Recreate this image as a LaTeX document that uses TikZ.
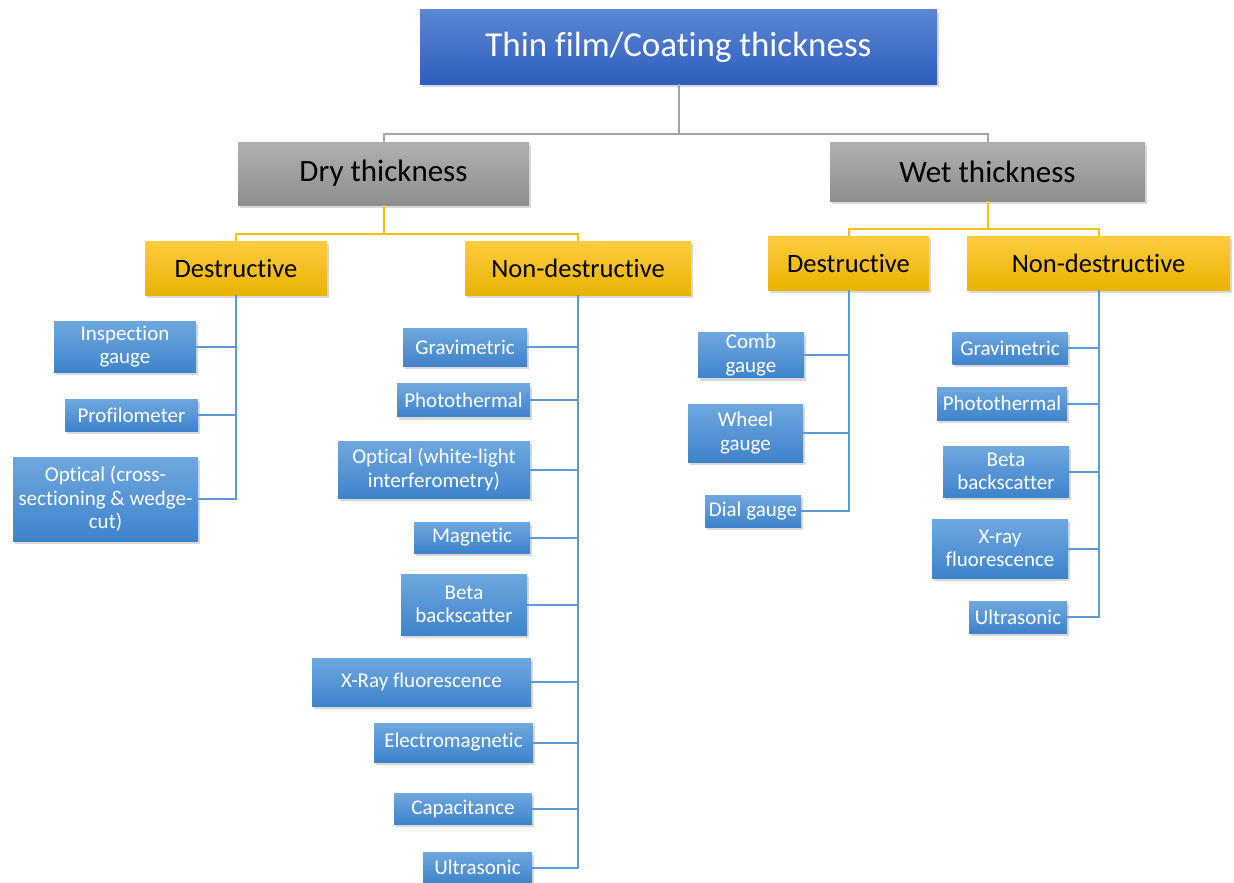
\documentclass[tikz,border=0pt]{standalone}
\usepackage{fontspec}
\setmainfont{Carlito}[RawFeature={-liga;-clig;-dlig;-calt}]
\usetikzlibrary{shadows}
\definecolor{tbtop}{HTML}{5B87D3}
\definecolor{tbbot}{HTML}{2E5EBE}
\definecolor{grtop}{HTML}{B0B0B0}
\definecolor{grbot}{HTML}{8E8E8E}
\definecolor{yltop}{HTML}{FFCC40}
\definecolor{ylbot}{HTML}{E9B300}
\definecolor{lftop}{HTML}{6EA8DF}
\definecolor{lfbot}{HTML}{3E83CB}
\definecolor{lnblue}{HTML}{5B9BD5}
\definecolor{lnyel}{HTML}{FFC000}
\definecolor{lngray}{HTML}{A5A5A5}
\tikzset{
  boxbase/.style={rectangle, inner sep=2pt, align=center,
    drop shadow={opacity=0.3, shadow xshift=2pt, shadow yshift=-3pt}},
  titlebox/.style={boxbase, top color=tbtop, bottom color=tbbot, text=white,
    font=\fontsize{35}{42}\selectfont},
  graybox/.style={boxbase, top color=grtop, bottom color=grbot, text=black,
    font=\fontsize{31}{37}\selectfont},
  yelbox/.style={boxbase, top color=yltop, bottom color=ylbot, text=black,
    font=\fontsize{26.5}{32}\selectfont},
  leafbox/.style={boxbase, top color=lftop, bottom color=lfbot, text=white,
    font=\fontsize{21}{23.5}\selectfont},
  grayln/.style={draw=lngray, line width=2pt},
  yelln/.style={draw=lnyel, line width=2pt},
  blueln/.style={draw=lnblue, line width=2pt},
}
\begin{document}
\begin{tikzpicture}[x=1pt,y=-1pt]
\useasboundingbox (0,0) rectangle (1234,883);
% junctions
\coordinate (j0) at (678.5,134);
\coordinate (j1) at (383.5,234);
\coordinate (j2) at (987.5,229);
% top levels
\node[titlebox, minimum width=517pt, minimum height=74pt] (title) at (678.5,47) {Thin film/Coating thickness};
\node[graybox, minimum width=291pt, minimum height=63pt] (dry) at (383.5,173.5) {Dry thickness};
\node[graybox, minimum width=315pt, minimum height=59pt] (wet) at (987.5,171.5) {Wet thickness};
\node[yelbox, minimum width=182pt, minimum height=54pt] (ddes) at (236,268) {Destructive};
\node[yelbox, minimum width=226pt, minimum height=54pt] (dnd) at (578,268) {Non-destructive};
\node[yelbox, minimum width=161pt, minimum height=54pt] (wdes) at (848.5,263) {Destructive};
\node[yelbox, minimum width=263pt, minimum height=54pt] (wnd) at (1098.5,263) {Non-destructive};
% dry destructive leaves
\node[leafbox, minimum width=142pt, minimum height=51pt] (a1) at (125,346.5) {Inspection\\gauge};
\node[leafbox, minimum width=133pt, minimum height=32pt] (a2) at (131.5,415) {Profilometer};
\node[leafbox, minimum width=185pt, minimum height=84pt] (a3) at (105.5,499) {Optical (cross-\\sectioning \& wedge-\\cut)};
% dry non-destructive leaves
\node[leafbox, minimum width=124pt, minimum height=38pt] (b1) at (465,347) {Gravimetric};
\node[leafbox, minimum width=133pt, minimum height=33pt] (b2) at (463.5,400) {Photothermal};
\node[leafbox, minimum width=192pt, minimum height=57pt] (b3) at (434,469.5) {Optical (white-light\\interferometry)};
\node[leafbox, minimum width=116pt, minimum height=31pt] (b4) at (472,537.5) {Magnetic};
\node[leafbox, minimum width=126pt, minimum height=61pt] (b5) at (464,604.5) {Beta\\backscatter};
\node[leafbox, minimum width=219pt, minimum height=48pt] (b6) at (421.5,682) {X-Ray fluorescence};
\node[leafbox, minimum width=159pt, minimum height=39pt] (b7) at (453.5,742.5) {Electromagnetic};
\node[leafbox, minimum width=138pt, minimum height=31pt] (b8) at (463,808.5) {Capacitance};
\node[leafbox, minimum width=109pt, minimum height=31pt] (b9) at (477.5,867.5) {Ultrasonic};
% wet destructive leaves
\node[leafbox, minimum width=106pt, minimum height=44pt] (c1) at (751,355) {Comb\\gauge};
\node[leafbox, minimum width=115pt, minimum height=58pt] (c2) at (745.5,433) {Wheel\\gauge};
\node[leafbox, minimum width=96pt, minimum height=32pt] (c3) at (753,511) {Dial gauge};
% wet non-destructive leaves
\node[leafbox, minimum width=115pt, minimum height=32pt] (d1) at (1010,348) {Gravimetric};
\node[leafbox, minimum width=130pt, minimum height=33pt] (d2) at (1002,403.5) {Photothermal};
\node[leafbox, minimum width=126pt, minimum height=51pt] (d3) at (1006,471.5) {Beta\\backscatter};
\node[leafbox, minimum width=136pt, minimum height=59pt] (d4) at (1000,548.5) {X-ray\\fluorescence};
\node[leafbox, minimum width=98pt, minimum height=32pt] (d5) at (1018,617) {Ultrasonic};
% connectors
\draw[grayln] (title.south) -- (j0) -| (dry.north);
\draw[grayln] (j0) -| (wet.north);
\draw[yelln] (dry.south) -- (j1) -| (ddes.north);
\draw[yelln] (j1) -| (dnd.north);
\draw[yelln] (wet.south) -- (j2) -| (wdes.north);
\draw[yelln] (j2) -| (wnd.north);
\foreach \l in {a1,a2,a3} \draw[blueln] (ddes.south) |- (\l.east);
\foreach \l in {b1,b2,b3,b4,b5,b6,b7,b8,b9} \draw[blueln] (dnd.south) |- (\l.east);
\foreach \l in {c1,c2,c3} \draw[blueln] (wdes.south) |- (\l.east);
\foreach \l in {d1,d2,d3,d4,d5} \draw[blueln] (wnd.south) |- (\l.east);
\end{tikzpicture}
\end{document}
